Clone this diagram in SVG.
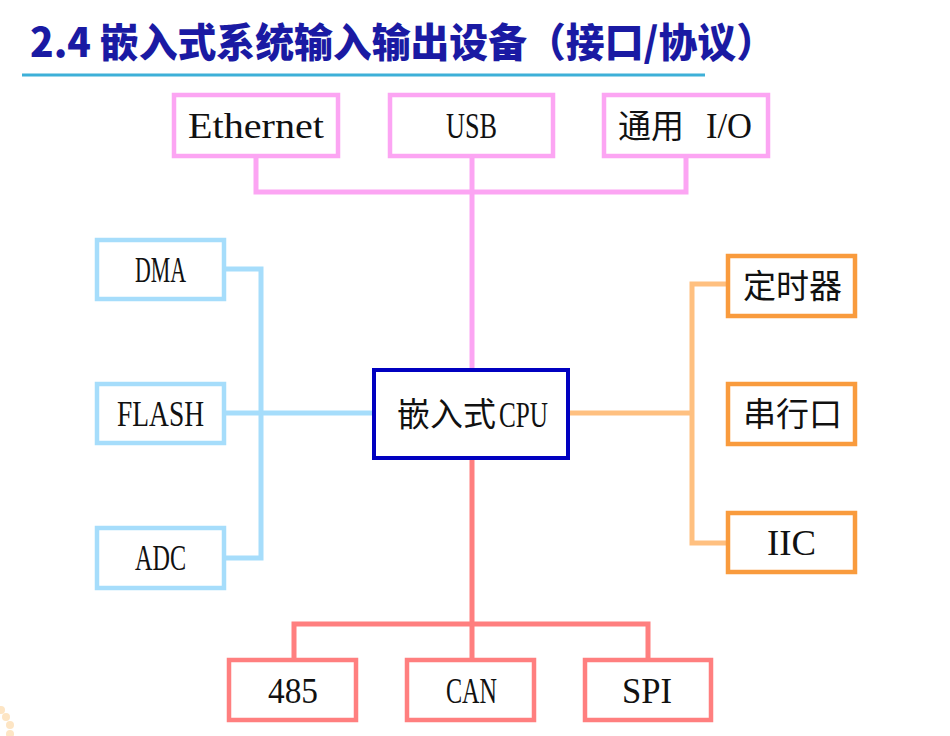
<svg xmlns="http://www.w3.org/2000/svg" width="950" height="736" viewBox="0 0 950 736">
  <style>
    .box { fill: #ffffff; stroke-width: 4.5; }
    .pink { stroke: #fca5f3; }
    .blue { stroke: #a6ddfb; }
    .orange { stroke: #f99b3d; }
    .red { stroke: #ff7f7f; }
    .cpu { fill: #ffffff; stroke: #0000c0; stroke-width: 4; }
    .wire { fill: none; stroke-width: 5; stroke-linejoin: miter; stroke-linecap: butt; }
    .lat { font-family: "Liberation Serif", "Times New Roman", serif; font-size: 35px; fill: #111111; }
    .cjk { font-family: "Noto Sans CJK SC", "Noto Sans", sans-serif; font-size: 33px; fill: #111111; }
    .title { font-family: "Noto Sans CJK SC", "Noto Sans", sans-serif; font-size: 40px; font-weight: 900; fill: #1a1aa3; }
  </style>

  <rect width="950" height="736" fill="#ffffff"/>

  <!-- faint slide decoration, lower left -->
  <g id="decoration" fill="#fde5c4">
    <circle cx="1" cy="710" r="4"/>
    <circle cx="6" cy="717" r="4"/>
    <circle cx="10" cy="725" r="4"/>
    <circle cx="10" cy="734" r="4"/>
  </g>

  <!-- heading -->
  <g id="heading">
    <text class="title" x="30" y="57" textLength="745" lengthAdjust="spacingAndGlyphs">2.4 嵌入式系统输入输出设备（接口/协议）</text>
    <line x1="22" y1="75" x2="705" y2="75" stroke="#3db0d8" stroke-width="3"/>
  </g>

  <!-- connectors -->
  <g id="connectors">
    <path class="wire pink" d="M256,158 V192 H686 V158"/>
    <path class="wire pink" d="M472,158 V370"/>
    <path class="wire blue" d="M226,269 H261 V558 H226"/>
    <path class="wire blue" d="M226,413 H374"/>
    <path class="wire" stroke="#ffc080" d="M728,284 H692 V543 H728"/>
    <path class="wire" stroke="#ffc080" d="M570,413 H692"/>
    <path class="wire red" d="M472,460 V660"/>
    <path class="wire red" d="M294,660 V624 H648 V660"/>
  </g>

  <!-- top row -->
  <g id="ethernet">
    <rect class="box pink" x="174" y="95" width="164" height="61"/>
    <text class="lat" x="188" y="138" textLength="136" lengthAdjust="spacingAndGlyphs">Ethernet</text>
  </g>
  <g id="usb">
    <rect class="box pink" x="390" y="95" width="163" height="61"/>
    <text class="lat" x="446" y="138" textLength="51" lengthAdjust="spacingAndGlyphs">USB</text>
  </g>
  <g id="gpio">
    <rect class="box pink" x="604" y="95" width="164" height="61"/>
    <text class="cjk" x="618" y="138">通用</text>
    <text class="lat" x="706" y="138" textLength="46" lengthAdjust="spacingAndGlyphs">I/O</text>
  </g>

  <!-- left column -->
  <g id="dma">
    <rect class="box blue" x="97" y="240" width="127" height="59"/>
    <text class="lat" x="135" y="282" textLength="51" lengthAdjust="spacingAndGlyphs">DMA</text>
  </g>
  <g id="flash">
    <rect class="box blue" x="97" y="384" width="127" height="59"/>
    <text class="lat" x="117" y="426" textLength="87" lengthAdjust="spacingAndGlyphs">FLASH</text>
  </g>
  <g id="adc">
    <rect class="box blue" x="97" y="528" width="127" height="60"/>
    <text class="lat" x="135" y="570" textLength="51" lengthAdjust="spacingAndGlyphs">ADC</text>
  </g>

  <!-- centre -->
  <g id="cpu">
    <rect class="cpu" x="374" y="370" width="194" height="88"/>
    <text class="cjk" x="397" y="426" font-size="34">嵌入式</text>
    <text class="lat" x="499" y="427" textLength="49" lengthAdjust="spacingAndGlyphs">CPU</text>
  </g>

  <!-- right column -->
  <g id="timer">
    <rect class="box orange" x="728" y="256" width="127" height="60"/>
    <text class="cjk" x="743" y="298">定时器</text>
  </g>
  <g id="uart">
    <rect class="box orange" x="728" y="384" width="127" height="60"/>
    <text class="cjk" x="743" y="426">串行口</text>
  </g>
  <g id="iic">
    <rect class="box orange" x="728" y="513" width="127" height="59"/>
    <text class="lat" x="767" y="555" textLength="49" lengthAdjust="spacingAndGlyphs">IIC</text>
  </g>

  <!-- bottom row -->
  <g id="rs485">
    <rect class="box red" x="229" y="660" width="127" height="60"/>
    <text class="lat" x="268" y="703" textLength="50" lengthAdjust="spacingAndGlyphs">485</text>
  </g>
  <g id="can">
    <rect class="box red" x="407" y="660" width="127" height="60"/>
    <text class="lat" x="446" y="703" textLength="51" lengthAdjust="spacingAndGlyphs">CAN</text>
  </g>
  <g id="spi">
    <rect class="box red" x="585" y="660" width="126" height="60"/>
    <text class="lat" x="622" y="703" textLength="50" lengthAdjust="spacingAndGlyphs">SPI</text>
  </g>
</svg>
